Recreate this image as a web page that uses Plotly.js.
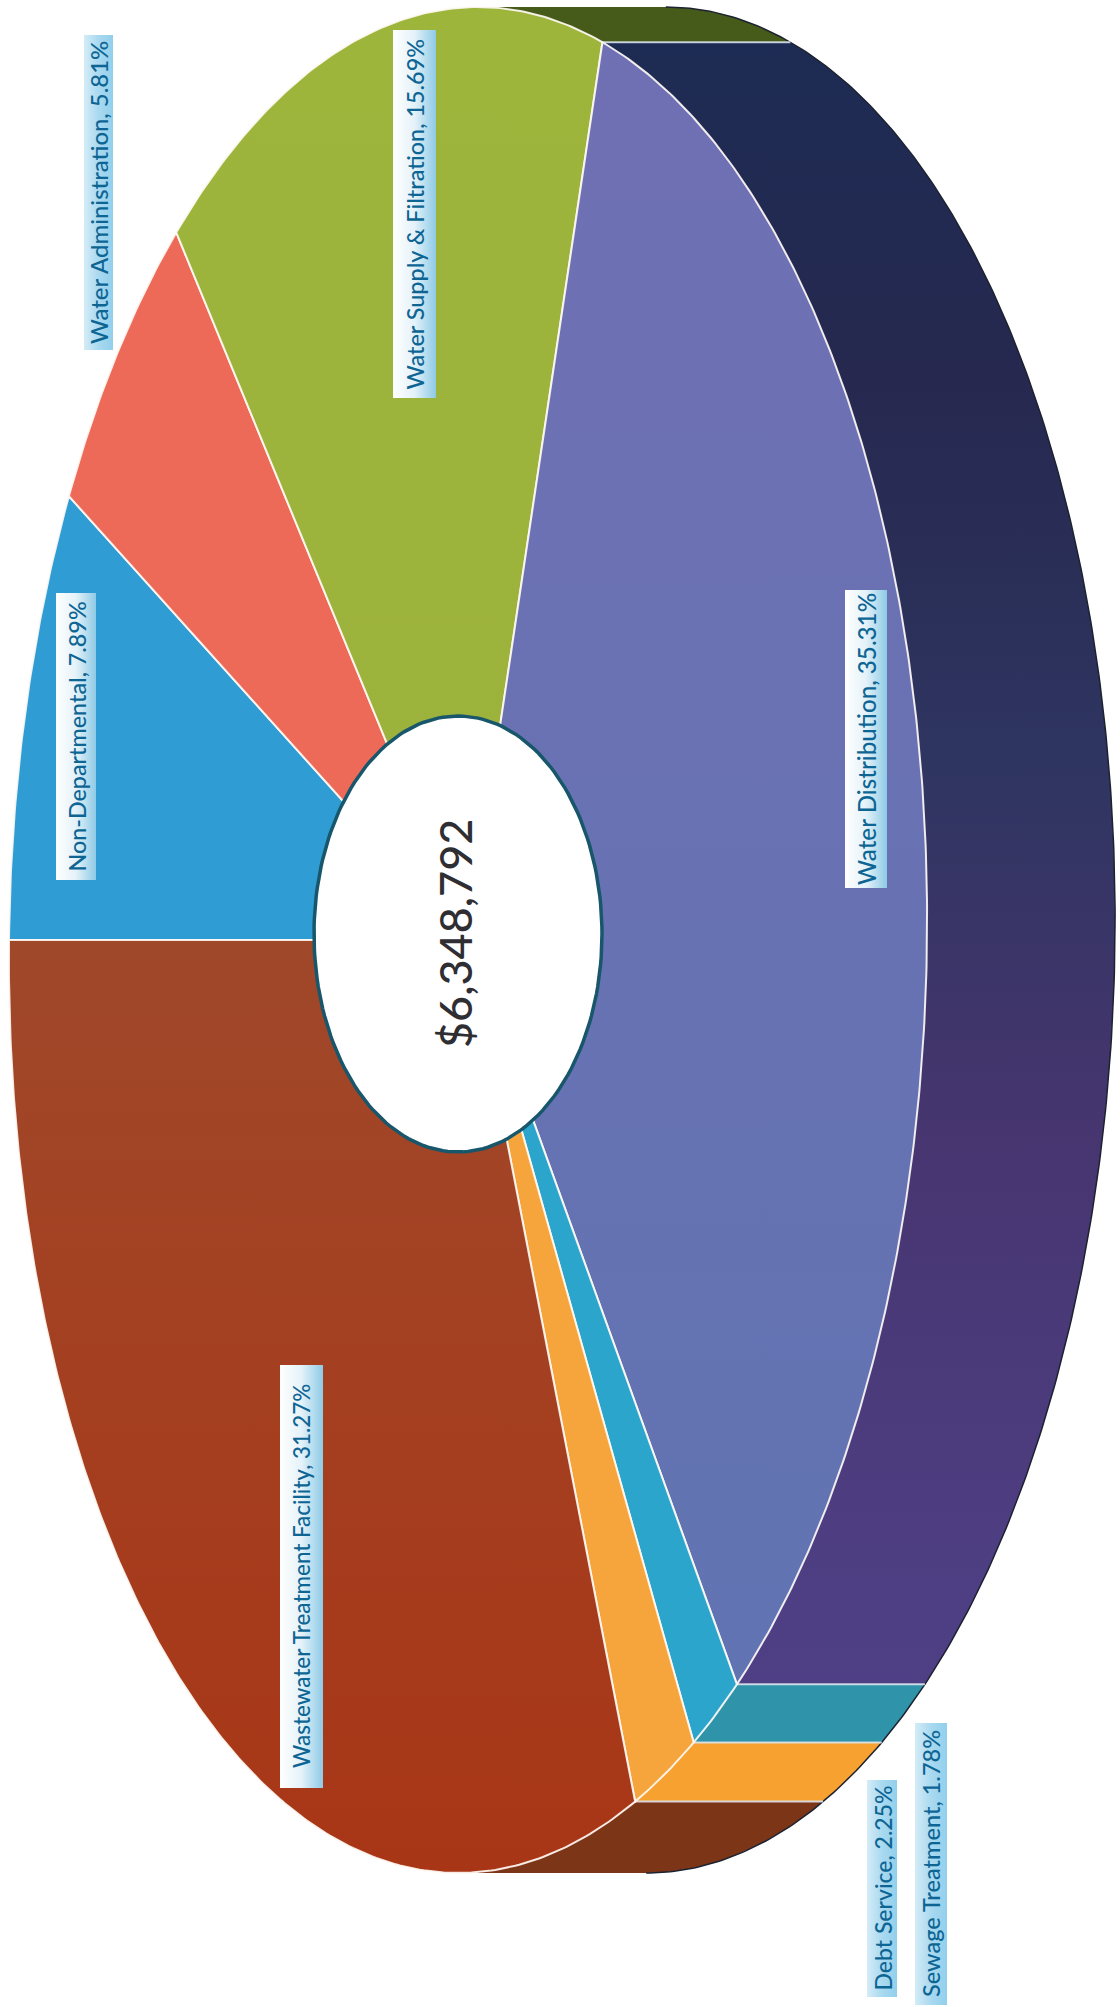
<!DOCTYPE html>
<html>
<head>
<meta charset="utf-8">
<script src="https://cdn.plot.ly/plotly-3.0.1.min.js"></script>
<style>html,body{margin:0;padding:0;background:#fff}#chart{width:1120px;height:2007px}</style>
</head>
<body>
<div id="chart"></div>
<script>
// Budget shares, in the order they run round the pie
const categories = ["Non-Departmental", "Water Administration", "Water Supply & Filtration",
  "Water Distribution", "Sewage Treatment", "Debt Service", "Wastewater Treatment Facility"];
const shares = [7.89, 5.81, 15.69, 35.31, 1.78, 2.25, 31.27];
const totalLabel = "$6,348,792";

// Face and wall colours per category, top to bottom
const faceColors = [
  ["#2f9dd3", "#2f9dd3"], ["#ee6a58", "#ee6a58"], ["#9eb53c", "#98ae3c"],
  ["#7070b4", "#5f74b2"], ["#2ba5cb", "#2ba5cb"], ["#f6a53c", "#f6a53c"], ["#985a3e", "#a83616"]
];
const wallColors = [
  null, null, ["#465a1a", "#465a1a"],
  ["#1c2c54", "#26284f", "#2e3560", "#46356f", "#4d3d80", "#50408a"],
  ["#2f94aa", "#2f94aa"], ["#f6a130", "#f6a130"], ["#7d3518", "#7d3518"]
];

// Tilted-disc geometry on a pixel-sized coordinate system
const disc = {cx: 468, cy: 940, rx: 459, ry: 933, lean: 9.8, depth: 188};
const hole = {cx: 458, cy: 934, rx: 144, ry: 218};
const labelBoxes = [
  {x0: 56, x1: 96, y0: 593, y1: 880, size: 23.3, inside: true},
  {x0: 84, x1: 113, y0: 35, y1: 350, size: 23.9, inside: false},
  {x0: 393, x1: 436, y0: 30, y1: 398, size: 23.4, inside: true},
  {x0: 845, x1: 887, y0: 590, y1: 888, size: 24.2, inside: true},
  {x0: 915, x1: 947, y0: 1723, y1: 2005, size: 23.5, inside: false},
  {x0: 867, x1: 897, y0: 1780, y1: 1997, size: 23, inside: false},
  {x0: 280, x1: 323, y0: 1365, y1: 1788, size: 22.4, inside: true}
];

const total = shares.reduce((a, b) => a + b, 0);
const rad = d => d * Math.PI / 180;
// Angles run clockwise from the left-hand point of the disc
const rim = (deg, shift = 0) => {
  const s = Math.sin(rad(deg)), c = Math.cos(rad(deg));
  return [disc.cx - disc.rx * c + disc.lean * s + shift, disc.cy - disc.ry * s];
};
const arc = (a, b, shift = 0) => {
  const n = Math.max(2, Math.ceil(Math.abs(b - a) * 2)), pts = [];
  for (let i = 0; i <= n; i++) pts.push(rim(a + (b - a) * i / n, shift));
  return pts;
};

const edges = [];
shares.reduce((acc, v, i) => { edges[i] = [acc, acc + v / total * 360]; return acc + v / total * 360; }, 0);

const traces = [];
const poly = (pts, extra) => traces.push(Object.assign({
  type: "scatter", mode: "lines", x: pts.map(p => p[0]), y: pts.map(p => p[1]),
  fill: "toself", hoverinfo: "skip", showlegend: false, line: {width: 0}
}, extra));
// Evenly spaced colour stops along one direction
const ramp = (c, type, start, stop) => ({type, start, stop,
  colorscale: c.map((col, i) => [i / (c.length - 1), col])});

// Side wall: only the part of each slice that faces the viewer, between 90 and 270 degrees
const wallTop = disc.cy - disc.ry, wallBottom = disc.cy + disc.ry;
edges.forEach((e, i) => {
  const a = Math.max(e[0], 90), b = Math.min(e[1], 270);
  if (b <= a || !wallColors[i]) return;
  const pts = arc(a, b).concat(arc(b, a, disc.depth));
  pts.push(pts[0]);
  poly(pts, {name: categories[i] + " wall", fillcolor: wallColors[i][0],
    fillgradient: ramp(wallColors[i], "vertical", wallTop, wallBottom)});
});
// Dark outer edge of the wall
poly(arc(90, 270, disc.depth), {fill: "none", line: {color: "#1d2230", width: 1.5}});
// Pale seams where wall sections meet
edges.forEach(e => {
  if (e[1] <= 90 || e[1] >= 270) return;
  poly([rim(e[1]), rim(e[1], disc.depth)], {fill: "none", line: {color: "rgba(225,230,240,0.85)", width: 2}});
});

// Top face of each slice
edges.forEach((e, i) => {
  const pts = [[disc.cx, disc.cy]].concat(arc(e[0], e[1]));
  pts.push([disc.cx, disc.cy]);
  poly(pts, {name: categories[i], fillcolor: faceColors[i][0],
    fillgradient: ramp(faceColors[i], "vertical", wallTop, wallBottom),
    line: {color: "rgba(255,250,245,0.9)", width: 2}});
});

// Centre hole
const holePts = [];
for (let d = 0; d <= 360; d += 2) holePts.push([hole.cx + hole.rx * Math.cos(rad(d)), hole.cy + hole.ry * Math.sin(rad(d))]);
poly(holePts, {fillcolor: "#ffffff", line: {color: "#17566b", width: 3.5}});

// Label plates
labelBoxes.forEach(b => {
  const c = b.inside ? ["#ffffff", "#e4f2f9", "#8ecae6"] : ["#d4ecf7", "#a9d9f0", "#92cfec"];
  poly([[b.x0, b.y0], [b.x1, b.y0], [b.x1, b.y1], [b.x0, b.y1], [b.x0, b.y0]],
    {fillcolor: c[1], fillgradient: ramp(c, "horizontal", b.x0, b.x1)});
});

const annotations = categories.map((name, i) => ({
  text: name + ", " + shares[i].toFixed(2) + "%",
  x: (labelBoxes[i].x0 + labelBoxes[i].x1) / 2, y: (labelBoxes[i].y0 + labelBoxes[i].y1) / 2,
  xref: "x", yref: "y", textangle: -90, showarrow: false,
  font: {family: "Lato, Carlito, sans-serif", size: labelBoxes[i].size, color: "#0d6594", weight: 500}
}));
annotations.push({
  text: totalLabel, x: hole.cx - 3, y: hole.cy, xref: "x", yref: "y", textangle: -90, showarrow: false,
  font: {family: "Lato, Carlito, sans-serif", size: 45, color: "#2e2e33", weight: 500}
});

const layout = {
  width: 1120, height: 2007, margin: {l: 0, r: 0, t: 0, b: 0},
  paper_bgcolor: "#ffffff", plot_bgcolor: "#ffffff", showlegend: false,
  xaxis: {range: [0, 1120], visible: false, fixedrange: true},
  yaxis: {range: [2007, 0], visible: false, fixedrange: true},
  annotations
};
Plotly.newPlot("chart", traces, layout, {displayModeBar: false, staticPlot: true});
</script>
</body>
</html>
